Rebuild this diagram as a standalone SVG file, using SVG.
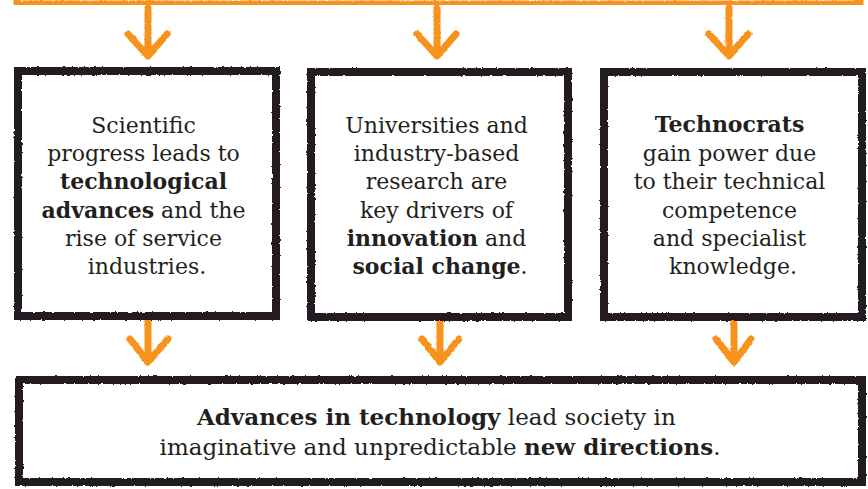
<svg xmlns="http://www.w3.org/2000/svg" width="868" height="489" viewBox="0 0 868 489">
  <style>
    .box { fill: #ffffff; stroke: #231f20; stroke-width: 8; stroke-linejoin: miter; }
    .orange { fill: none; stroke: #f7931e; stroke-width: 7; }
    .arrow { fill: none; stroke: #f7931e; stroke-width: 7; stroke-linecap: round; stroke-linejoin: round; }
    .txt { font-family: "DejaVu Serif", "Liberation Serif", serif; font-size: 22px; fill: #231f20; text-anchor: middle; }
    .big { font-size: 23px; }
    .b { font-weight: bold; }
  </style>
  <defs>
    <filter id="rough" x="-5%" y="-5%" width="110%" height="110%">
      <feTurbulence type="fractalNoise" baseFrequency="0.35" numOctaves="2" seed="3" result="n"/>
      <feDisplacementMap in="SourceGraphic" in2="n" scale="2.5" xChannelSelector="R" yChannelSelector="G"/>
    </filter>
  </defs>
  <rect width="868" height="489" fill="#ffffff"/>

  <g id="top-frame" filter="url(#rough)">
    <path class="orange" d="M17,-10 V4 H860 V-10"/>
  </g>

  <g id="connectors" filter="url(#rough)">
    <line class="arrow" x1="148" y1="8" x2="148" y2="55"/>
    <polyline class="arrow" points="128,34 148,56 167,34"/>
    <line class="arrow" x1="437" y1="8" x2="437" y2="55"/>
    <polyline class="arrow" points="417,34 437,56 456,34"/>
    <line class="arrow" x1="729" y1="8" x2="729" y2="55"/>
    <polyline class="arrow" points="709,34 729,56 748,34"/>

    <line class="arrow" x1="148" y1="320" x2="148" y2="361"/>
    <polyline class="arrow" points="130,339 148,362 168,339"/>
    <line class="arrow" x1="440" y1="320" x2="440" y2="361"/>
    <polyline class="arrow" points="422,339 440,362 459,339"/>
    <line class="arrow" x1="734" y1="320" x2="734" y2="361"/>
    <polyline class="arrow" points="716,339 734,362 751,339"/>
  </g>

  <g id="node-science">
    <rect class="box" x="18" y="71" width="258" height="245" filter="url(#rough)"/>
    <text class="txt">
      <tspan x="147" y="133">Scientific</tspan>
      <tspan x="147" y="161">progress leads to</tspan>
      <tspan x="147" y="189" class="b">technological</tspan>
      <tspan x="147" y="218"><tspan class="b">advances</tspan> and the</tspan>
      <tspan x="147" y="246">rise of service</tspan>
      <tspan x="147" y="274">industries.</tspan>
    </text>
  </g>

  <g id="node-universities">
    <rect class="box" x="311" y="72" width="257" height="245" filter="url(#rough)"/>
    <text class="txt">
      <tspan x="440" y="133">Universities and</tspan>
      <tspan x="440" y="161">industry-based</tspan>
      <tspan x="440" y="189">research are</tspan>
      <tspan x="440" y="218">key drivers of</tspan>
      <tspan x="440" y="246"><tspan class="b">innovation</tspan> and</tspan>
      <tspan x="440" y="274"><tspan class="b">social change</tspan>.</tspan>
    </text>
  </g>

  <g id="node-technocrats">
    <rect class="box" x="604" y="72" width="258" height="245" filter="url(#rough)"/>
    <text class="txt">
      <tspan x="733" y="132" class="b">Technocrats</tspan>
      <tspan x="733" y="161">gain power due</tspan>
      <tspan x="733" y="189">to their technical</tspan>
      <tspan x="733" y="218">competence</tspan>
      <tspan x="733" y="246">and specialist</tspan>
      <tspan x="733" y="274">knowledge.</tspan>
    </text>
  </g>

  <g id="node-advances">
    <rect class="box" x="19" y="380" width="843" height="102" filter="url(#rough)"/>
    <text class="txt big">
      <tspan x="440" y="425"><tspan class="b">Advances in technology</tspan> lead society in</tspan>
      <tspan x="440" y="455">imaginative and unpredictable <tspan class="b">new directions</tspan>.</tspan>
    </text>
  </g>
</svg>
